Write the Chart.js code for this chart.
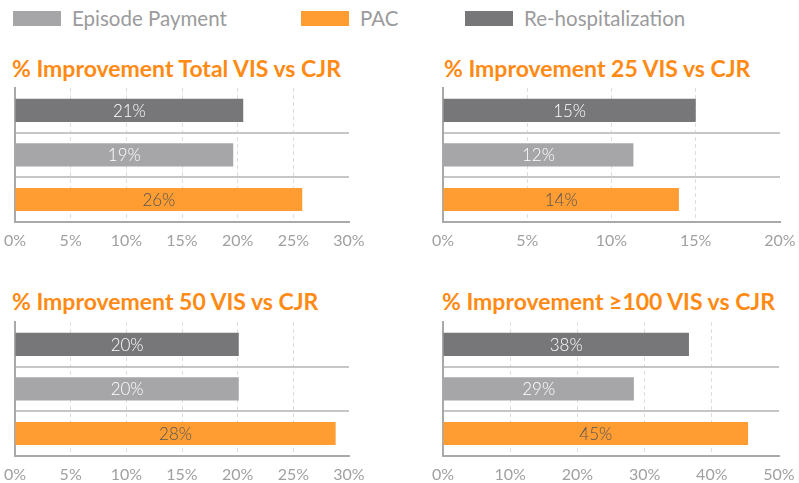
<!DOCTYPE html>
<html>
<head>
<meta charset="utf-8">
<script src="https://cdn.jsdelivr.net/npm/chart.js@4.4.1/dist/chart.umd.min.js"></script>
<style>
  body { margin: 0; background: #fff; width: 799px; height: 483px; position: relative; overflow: hidden; font-family: Lato, sans-serif; }
  .legend { position: absolute; top: 4px; left: 0; height: 28px; }
  .legend span { position: absolute; top: 0; font-size: 20.5px; color: #9b9b9d; white-space: nowrap; line-height: 28px; }
  .legend i { position: absolute; top: 7px; width: 48px; height: 15px; }
  .title { position: absolute; font-size: 23px; font-weight: bold; color: #ff8a14; white-space: nowrap; line-height: 28px; }
  canvas { position: absolute; }
</style>
</head>
<body>
<div class="legend" id="legend"></div>
<div class="title" id="t0" style="left:12px; top:54px;"></div>
<div class="title" id="t1" style="left:444px; top:54px;"></div>
<div class="title" id="t2" style="left:12px; top:287px;"></div>
<div class="title" id="t3" style="left:442px; top:287px;"></div>
<canvas id="c0" width="420" height="185" style="left:-20px; top:82px;"></canvas>
<canvas id="c1" width="420" height="185" style="left:400px; top:82px;"></canvas>
<canvas id="c2" width="420" height="185" style="left:-20px; top:316px;"></canvas>
<canvas id="c3" width="420" height="185" style="left:400px; top:316px;"></canvas>
<script>
// categories, top to bottom
var categories = ['Re-hospitalization', 'Episode Payment', 'PAC']
var legendOrder = ['Episode Payment', 'PAC', 'Re-hospitalization']

var titles = [
    '% Improvement Total VIS vs CJR',
    '% Improvement 25 VIS vs CJR',
    '% Improvement 50 VIS vs CJR',
    '% Improvement \u2265100 VIS vs CJR'
]

var totalValues = [20.5, 19.6, 25.8]
var totalLabels = ['21%', '19%', '26%']
var vis25Values = [15.0, 11.3, 14.0]
var vis25Labels = ['15%', '12%', '14%']
var vis50Values = [20.1, 20.1, 28.8]
var vis50Labels = ['20%', '20%', '28%']
var vis100Values = [36.6, 28.4, 45.4]
var vis100Labels = ['38%', '29%', '45%']

var axisMax = [30, 20, 30, 50]
var axisStep = [5, 5, 5, 10]

var colors = { 'Re-hospitalization': '#777679', 'Episode Payment': '#a6a6a9', 'PAC': '#ff9d33' }
var labelColors = { 'Re-hospitalization': '#ffffff', 'Episode Payment': '#ffffff', 'PAC': '#555555' }

var allValues = [totalValues, vis25Values, vis50Values, vis100Values]
var allLabels = [totalLabels, vis25Labels, vis50Labels, vis100Labels]

// legend
var legendX = [13, 301, 465]
var legend = document.getElementById('legend')
legendOrder.forEach(function(name, i){
    var box = document.createElement('i')
    box.style.left = legendX[i] + 'px'
    box.style.background = colors[name]
    legend.appendChild(box)
    var txt = document.createElement('span')
    txt.style.left = (legendX[i] + 59) + 'px'
    txt.textContent = name
    legend.appendChild(txt)
})

var barText = {
    id: 'barText',
    afterDatasetsDraw: function(chart){
        var ctx = chart.ctx
        var labels = chart.options.plugins.barText.labels
        chart.getDatasetMeta(0).data.forEach(function(bar, i){
            ctx.save()
            ctx.font = '300 17px Lato'
            ctx.fillStyle = labelColors[categories[i]]
            ctx.textAlign = 'center'
            ctx.textBaseline = 'middle'
            ctx.fillText(labels[i], (bar.base + bar.x) / 2, bar.y + 1)
            ctx.restore()
        })
    }
}

// canvases are wider than their cell so the label overflow never moves the plot area
var pads = [
    { left: 35, right: 51, top: 6, bottom: 8 },
    { left: 43, right: 40, top: 6, bottom: 8 },
    { left: 35, right: 51, top: 6, bottom: 8 },
    { left: 43, right: 41, top: 6, bottom: 8 }
]

allValues.forEach(function(values, k){
    document.getElementById('t' + k).textContent = titles[k]
    var steps = axisMax[k] / axisStep[k]
    new Chart(document.getElementById('c' + k), {
        type: 'bar',
        data: {
            labels: categories,
            datasets: [{
                data: values,
                backgroundColor: categories.map(function(c){ return colors[c] }),
                barPercentage: 0.52,
                categoryPercentage: 1
            }]
        },
        options: {
            indexAxis: 'y',
            responsive: false,
            animation: false,
            layout: { padding: pads[k] },
            plugins: {
                legend: { display: false },
                tooltip: { enabled: false },
                barText: { labels: allLabels[k] }
            },
            scales: {
                x: {
                    min: 0,
                    max: axisMax[k],
                    ticks: {
                        stepSize: axisStep[k],
                        padding: 9,
                        color: '#a0a0a2',
                        font: { family: 'Lato', size: 16 },
                        callback: function(v){ return v + '%' }
                    },
                    grid: {
                        drawTicks: false,
                        color: function(c){ return (c.index === 0 || c.index === steps) ? 'transparent' : '#dedede' },
                        lineWidth: 1
                    },
                    border: { color: '#a9a9a9', width: 2, dash: [4, 3] }
                },
                y: {
                    ticks: { display: false },
                    grid: {
                        drawTicks: false,
                        offset: true,
                        color: function(c){ return c.index === 0 ? 'transparent' : '#c6c6c6' },
                        lineWidth: 2
                    },
                    border: { color: '#a9a9a9', width: 2 }
                }
            }
        },
        plugins: [barText]
    })
})
</script>
</body>
</html>
